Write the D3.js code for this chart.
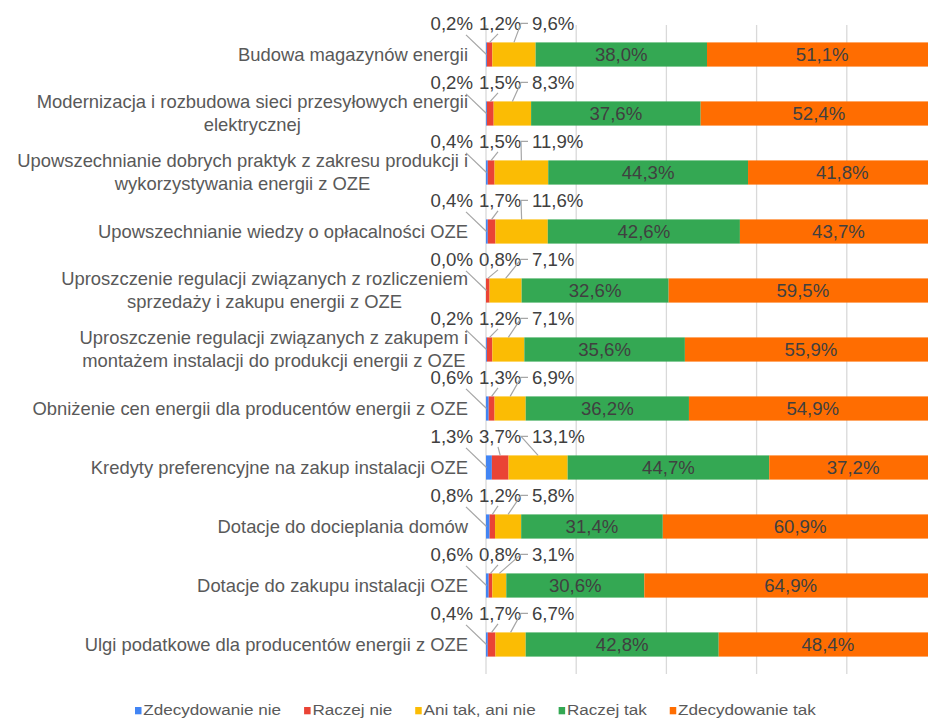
<!DOCTYPE html>
<html><head><meta charset="utf-8">
<script src="https://cdn.jsdelivr.net/npm/d3@7"></script>
<style>
html,body{margin:0;padding:0;background:#fff;overflow:hidden}
svg{display:block;font-family:"Liberation Sans",Arial,sans-serif}
</style></head><body>
<svg id="chart" width="928" height="719"></svg>
<script>
// Categories (line breaks mark where the long labels wrap)
const categories = [
  "Budowa magazynów energii",
  "Modernizacja i rozbudowa sieci przesyłowych energii\nelektrycznej",
  "Upowszechnianie dobrych praktyk z zakresu produkcji i\nwykorzystywania energii z OZE",
  "Upowszechnianie wiedzy o opłacalności OZE",
  "Uproszczenie regulacji związanych z rozliczeniem\nsprzedaży i zakupu energii z OZE",
  "Uproszczenie regulacji związanych z zakupem i\nmontażem instalacji do produkcji energii z OZE",
  "Obniżenie cen energii dla producentów energii z OZE",
  "Kredyty preferencyjne na zakup instalacji OZE",
  "Dotacje do docieplania domów",
  "Dotacje do zakupu instalacji OZE",
  "Ulgi podatkowe dla producentów energii z OZE"
];
const seriesNames = ["Zdecydowanie nie", "Raczej nie", "Ani tak, ani nie", "Raczej tak", "Zdecydowanie tak"];
const zdecydowanieNie = [0.2, 0.2, 0.4, 0.4, 0.0, 0.2, 0.6, 1.3, 0.8, 0.6, 0.4];
const raczejNie       = [1.2, 1.5, 1.5, 1.7, 0.8, 1.2, 1.3, 3.7, 1.2, 0.8, 1.7];
const aniTakAniNie    = [9.6, 8.3, 11.9, 11.6, 7.1, 7.1, 6.9, 13.1, 5.8, 3.1, 6.7];
const raczejTak       = [38.0, 37.6, 44.3, 42.6, 32.6, 35.6, 36.2, 44.7, 31.4, 30.6, 42.8];
const zdecydowanieTak = [51.1, 52.4, 41.8, 43.7, 59.5, 55.9, 54.9, 37.2, 60.9, 64.9, 48.4];
const xTicks = [0, 20, 40, 60, 80, 100];
const colors = ["#4285F4", "#EA4335", "#FBBC04", "#34A853", "#FF6D01"];

const seriesValues = [zdecydowanieNie, raczejNie, aniTakAniNie, raczejTak, zdecydowanieTak];
const rows = categories.map((c, i) => {
  const r = { category: c };
  seriesNames.forEach((s, k) => r[s] = seriesValues[k][i]);
  return r;
});

const svg = d3.select("#chart");
const x = d3.scaleLinear().domain([0, 100]).range([486, 937]);
const y = d3.scaleBand().domain(categories).range([25, 674]).paddingInner(0.59).paddingOuter(0.295);
const fmt = v => v.toFixed(1).replace(".", ",") + "%";

// vertical gridlines
svg.append("g").selectAll("line").data(xTicks).join("line")
  .attr("x1", d => x(d)).attr("x2", d => x(d))
  .attr("y1", 25).attr("y2", 674)
  .attr("stroke", "#d9d9d9").attr("stroke-width", 1.3);

// stacked bars
const stacked = d3.stack().keys(seriesNames)(rows);
const layers = svg.append("g").selectAll("g").data(stacked).join("g")
  .attr("fill", (d, i) => colors[i]);
layers.selectAll("rect").data(d => d).join("rect")
  .attr("x", d => x(d[0]))
  .attr("width", d => x(d[1]) - x(d[0]))
  .attr("y", d => y(d.data.category))
  .attr("height", y.bandwidth());

// category labels, right-aligned block with centred lines
const catG = svg.append("g").attr("fill", "#595959").attr("font-size", 18.4);
categories.forEach(c => {
  const lines = c.split("\n");
  const cy = y(c) + y.bandwidth() / 2;
  const lh = 23;
  const t = catG.append("text").attr("text-anchor", "middle");
  lines.forEach((ln, j) => {
    t.append("tspan").attr("x", 0)
      .attr("y", cy + (j - (lines.length - 1) / 2) * lh)
      .attr("dy", "0.35em").text(ln);
  });
  const w = d3.max(t.selectAll("tspan").nodes(), n => n.getComputedTextLength());
  t.selectAll("tspan").attr("x", x(0) - 18 - w / 2);
});

// values inside the two large segments
const inG = svg.append("g").attr("fill", "#404040").attr("font-size", 18.6).attr("text-anchor", "middle");
stacked.slice(3).forEach(layer => {
  inG.selectAll(null).data(layer).join("text")
    .attr("x", d => (x(d[0]) + x(d[1])) / 2)
    .attr("y", d => y(d.data.category) + y.bandwidth() / 2)
    .attr("dy", "0.35em")
    .text(d => fmt(d[1] - d[0]));
});

// small segments: labels above the bar with leader lines
const outG = svg.append("g").attr("fill", "#404040").attr("font-size", 18.6);
const leadG = svg.append("g").attr("fill", "none").attr("stroke", "#a6a6a6").attr("stroke-width", 1.2);
categories.forEach((c, i) => {
  const top = y(c);
  const cy = top + y.bandwidth() / 2;
  const base = top - 12.5;
  const midY = base - 6.5;
  const s0 = stacked[0][i], s1 = stacked[1][i], s2 = stacked[2][i];

  // first series: to the left of the axis
  outG.append("text").attr("text-anchor", "end")
    .attr("x", x(0) - 13).attr("y", base).text(fmt(s0[1] - s0[0]));
  leadG.append("path").attr("d", d3.line()([
    [x(0) - 20, base + 5], [x(0) + 0.5, cy]
  ]));

  // second series
  outG.append("text").attr("x", x(0) - 7).attr("y", base).text(fmt(s1[1] - s1[0]));
  leadG.append("path").attr("d", d3.line()([
    [x(0) + 12, base + 4], [(x(s1[0]) + x(s1[1])) / 2, top]
  ]));

  // third series
  const lx = x(0) + 46;
  outG.append("text").attr("x", lx).attr("y", base).text(fmt(s2[1] - s2[0]));
  leadG.append("path").attr("d", d3.line()([
    [lx - 4, midY], [lx - 11, midY], [(x(s2[0]) + x(s2[1])) / 2, top]
  ]));
});

// legend
const lg = svg.append("g").attr("font-size", 15).attr("fill", "#595959");
let lx = 135;
const ly = 715;
const sx = 1.14;
seriesNames.forEach((s, k) => {
  lg.append("rect").attr("x", lx).attr("y", 707).attr("width", 6.5).attr("height", 7.3).attr("fill", colors[k]);
  const t = lg.append("text")
    .attr("transform", `translate(${lx + 8.3},${ly}) scale(${sx},1)`)
    .text(s);
  lx += 8.3 + t.node().getComputedTextLength() * sx + 23;
});
</script>
</body></html>
